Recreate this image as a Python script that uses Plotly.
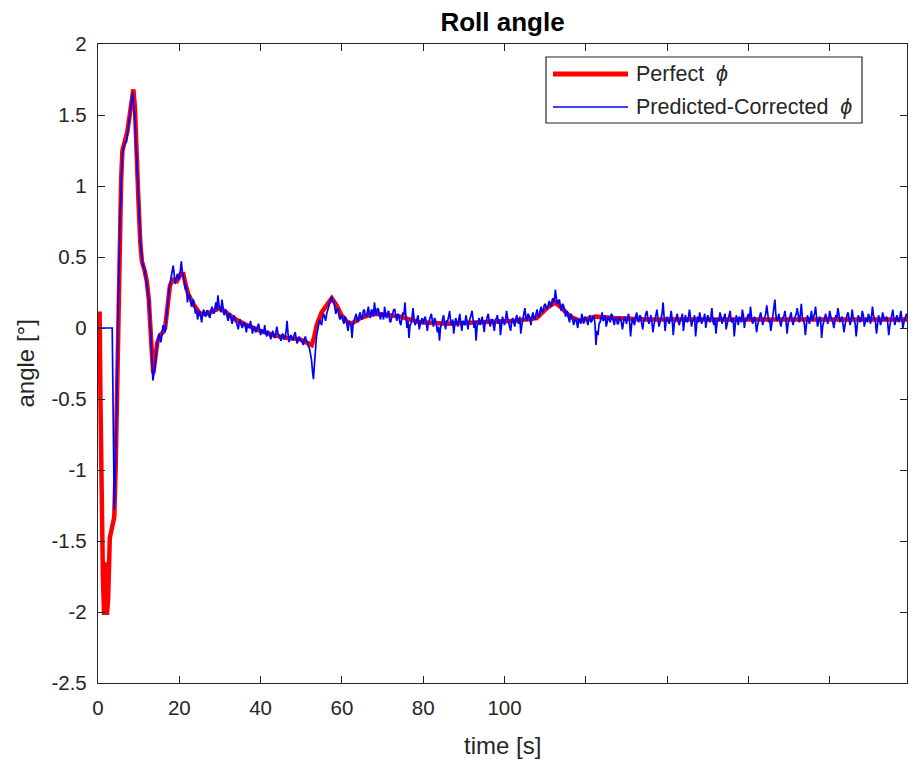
import plotly.graph_objects as go

# ---------------- data ----------------
# "Perfect" roll angle (reference trajectory), breakpoints in time [s] / angle
perfect_t = [0, 0.4, 0.6, 0.9, 1.2, 1.5, 1.9, 2.2, 2.5, 2.9, 3.5, 4.0, 4.35, 4.85,
             5.2, 5.7, 6.0, 6.6, 7.2, 7.8, 8.3, 8.7, 9.1, 9.5, 9.9, 10.4, 10.8,
             11.5, 12.0, 12.5, 12.9, 13.3, 13.6, 14.0, 14.6, 15.3, 16.0, 16.5,
             17.1, 17.7, 18.5, 19.4, 20.3, 21.0, 21.6, 22.2, 23.4, 25.1, 26.7,
             28.5, 30.0, 31.5, 33.3, 36.6, 39.9, 43.1, 46.5, 49.7, 51.5, 52.6,
             53.2, 53.8, 55.0, 56.3, 57.5, 58.7, 59.9, 61.0, 62.4, 64.5, 67.7,
             71.8, 74.3, 79.2, 85.8, 94.0, 102.2, 107.9, 110.4, 112.4, 114.1,
             116.1, 118.6, 122.3, 126.8, 135, 150, 165, 180, 199]
perfect_phi = [0.10, 0.10, -0.50, -1.30, -1.75, -2.02, -1.65, -2.02, -1.90, -1.48,
               -1.40, -1.33, -0.98, -0.15, 0.50, 1.05, 1.25, 1.32, 1.38, 1.50,
               1.62, 1.68, 1.55, 1.31, 0.93, 0.60, 0.47, 0.40, 0.33, 0.20, 0.05,
               -0.20, -0.32, -0.25, -0.10, -0.05, -0.03, 0.00, 0.15, 0.30, 0.34,
               0.33, 0.38, 0.38, 0.30, 0.24, 0.17, 0.10, 0.10, 0.12, 0.14, 0.11,
               0.07, 0.02, -0.02, -0.05, -0.07, -0.08, -0.10, -0.12, -0.06, 0.02,
               0.11, 0.16, 0.21, 0.16, 0.09, 0.05, 0.03, 0.07, 0.10, 0.09, 0.08,
               0.04, 0.03, 0.04, 0.05, 0.07, 0.14, 0.18, 0.14, 0.08, 0.05, 0.08,
               0.07, 0.06, 0.06, 0.06, 0.06, 0.06]

# Predicted-corrected estimate.
# First 20 s sampled every 0.5 s (one row = 10 s)
pc_dt_early = 0.5
pc_phi_early = [
    0.00, 0.00, 0.00, 0.00, 0.00, 0.00, 0.00, 0.00, -1.28, -0.72, 0.22, 0.85, 1.22, 1.30, 1.31, 1.42, 1.55, 1.66, 1.50, 1.20,
    0.88, 0.58, 0.45, 0.40, 0.31, 0.20, -0.05, -0.37, -0.28, -0.12, -0.04, -0.10, 0.02, -0.03, 0.12, 0.28, 0.36, 0.44, 0.31, 0.38,
]
# From 20 s onwards sampled every 0.25 s (one row = 10 s)
pc_t0_late = 20.0
pc_dt_late = 0.25
pc_phi_late = [
    0.34, 0.40, 0.47, 0.39, 0.36, 0.33, 0.27, 0.30, 0.18, 0.24, 0.23, 0.19, 0.15, 0.18, 0.20, 0.14, 0.10, 0.13, 0.06, 0.10,
    0.12, 0.08, 0.04, 0.10, 0.13, 0.09, 0.08, 0.12, 0.12, 0.09, 0.07, 0.11, 0.15, 0.12, 0.10, 0.14, 0.18, 0.13, 0.23, 0.16,
    0.14, 0.11, 0.20, 0.15, 0.09, 0.12, 0.13, 0.08, 0.05, 0.10, 0.10, 0.06, 0.03, 0.07, 0.09, 0.05, 0.04, 0.02, -0.01, 0.04,
    0.06, 0.02, 0.00, 0.03, 0.04, 0.01, -0.03, 0.02, 0.02, 0.00, 0.05, 0.01, -0.04, 0.00, 0.01, -0.03, -0.02, 0.01, 0.03, -0.01,
    -0.05, -0.01, -0.02, -0.04, 0.02, -0.03, -0.06, -0.02, -0.03, -0.05, -0.08, -0.04, -0.02, -0.06, -0.07, -0.03, 0.01, -0.04, -0.05, -0.07,
    -0.09, -0.05, -0.04, -0.08, -0.07, -0.03, 0.05, -0.04, -0.10, -0.06, -0.05, -0.08, -0.08, -0.05, -0.03, -0.07, -0.11, -0.08, -0.06, -0.09,
    -0.08, -0.10, -0.12, -0.08, -0.06, -0.09, -0.10, -0.13, -0.14, -0.18, -0.22, -0.30, -0.36, -0.25, -0.12, -0.06, -0.02, 0.03, 0.06, 0.04,
    0.02, 0.07, 0.10, 0.08, 0.05, 0.10, 0.13, 0.15, 0.18, 0.20, 0.22, 0.18, 0.19, 0.14, 0.10, 0.13, 0.14, 0.09, 0.06, 0.08,
    0.09, 0.05, 0.03, 0.08, 0.07, 0.02, -0.02, 0.04, 0.04, 0.01, -0.07, 0.03, 0.05, 0.08, 0.10, 0.06, 0.04, 0.09, 0.11, 0.07,
    0.06, 0.12, 0.13, 0.09, 0.08, 0.11, 0.15, 0.10, 0.07, 0.13, 0.12, 0.08, 0.18, 0.12, 0.09, 0.14, 0.13, 0.09, 0.06, 0.11,
    0.10, 0.06, 0.15, 0.09, 0.07, 0.11, 0.12, 0.05, 0.04, 0.08, 0.10, 0.13, 0.13, 0.07, 0.05, 0.10, 0.09, 0.04, 0.02, 0.07,
    0.11, 0.09, 0.18, 0.08, 0.00, 0.05, -0.07, 0.02, 0.03, 0.08, 0.14, 0.06, 0.02, 0.04, 0.06, 0.09, -0.01, 0.03, 0.05, 0.07,
    0.03, 0.06, 0.08, 0.04, -0.02, 0.03, 0.05, 0.08, 0.10, 0.05, 0.01, 0.07, 0.06, 0.02, -0.03, 0.01, -0.09, 0.00, 0.04, 0.06,
    0.09, 0.03, -0.01, 0.05, 0.05, 0.08, 0.12, 0.04, 0.02, 0.06, -0.04, 0.02, 0.07, 0.04, 0.01, 0.06, 0.10, 0.03, -0.02, 0.05,
    0.04, 0.02, 0.09, 0.05, -0.01, 0.04, 0.06, 0.09, 0.12, 0.03, 0.00, 0.05, -0.09, 0.01, 0.05, 0.07, 0.02, 0.06, 0.08, 0.03,
    -0.03, 0.05, 0.04, 0.08, 0.10, 0.04, 0.01, 0.06, 0.06, 0.02, -0.02, 0.05, 0.07, 0.09, 0.03, 0.06, -0.05, 0.02, 0.08, 0.05,
    0.02, 0.06, 0.12, 0.07, 0.04, 0.03, -0.02, 0.05, 0.07, 0.04, 0.01, 0.06, 0.09, 0.05, 0.03, 0.08, -0.04, 0.02, 0.06, 0.09,
    0.14, 0.07, 0.05, 0.10, 0.09, 0.06, 0.02, 0.08, 0.11, 0.07, 0.06, 0.10, 0.13, 0.09, 0.08, 0.12, 0.15, 0.11, 0.12, 0.16,
    0.17, 0.14, 0.13, 0.16, 0.19, 0.17, 0.15, 0.20, 0.21, 0.18, 0.27, 0.21, 0.17, 0.19, 0.20, 0.15, 0.12, 0.17, 0.16, 0.13,
    0.08, 0.12, 0.11, 0.07, 0.04, 0.10, 0.09, 0.06, 0.02, 0.05, 0.07, 0.04, 0.00, 0.06, 0.06, 0.03, 0.10, 0.07, 0.03, 0.08,
    0.07, 0.05, 0.02, 0.06, 0.09, 0.04, 0.05, 0.08, 0.08, 0.03, -0.12, -0.02, -0.05, 0.03, 0.04, 0.07, 0.11, 0.05, 0.06, 0.09,
    0.01, 0.04, 0.08, 0.06, 0.04, 0.10, 0.09, 0.05, 0.02, 0.07, 0.07, 0.03, 0.03, 0.08, 0.06, 0.04, -0.01, 0.05, 0.08, 0.06,
    0.03, 0.07, 0.10, 0.05, -0.06, 0.02, 0.07, 0.04, 0.02, 0.08, 0.11, 0.06, 0.04, 0.09, 0.08, 0.03, -0.01, 0.05, 0.06, 0.10,
    0.12, 0.07, 0.03, 0.05, 0.09, 0.04, -0.03, 0.02, 0.05, 0.08, 0.13, 0.06, 0.01, 0.04, 0.07, 0.10, 0.18, 0.08, -0.02, 0.05,
    0.08, 0.05, 0.03, 0.07, 0.12, 0.06, -0.05, 0.03, 0.06, 0.09, 0.10, 0.04, 0.02, 0.06, 0.07, 0.10, -0.02, 0.04, 0.09, 0.05,
    0.04, 0.08, 0.13, 0.07, 0.01, 0.05, 0.06, 0.09, -0.06, 0.02, 0.08, 0.04, 0.11, 0.07, 0.03, 0.06, 0.07, 0.10, 0.00, 0.05,
    0.09, 0.06, 0.04, 0.08, 0.14, 0.05, 0.02, 0.07, -0.04, 0.03, 0.07, 0.05, 0.11, 0.08, 0.03, 0.06, 0.08, 0.10, -0.01, 0.04,
    0.06, 0.09, 0.12, 0.05, 0.04, 0.07, -0.06, 0.02, 0.09, 0.06, 0.02, 0.08, 0.07, 0.04, 0.13, 0.09, 0.00, 0.06, 0.05, 0.08,
    0.10, 0.06, 0.15, 0.08, 0.03, 0.05, 0.08, 0.04, -0.03, 0.02, 0.06, 0.09, 0.11, 0.07, 0.02, 0.05, 0.07, 0.10, 0.16, 0.08,
    0.04, 0.06, -0.02, 0.03, 0.09, 0.11, 0.20, 0.09, 0.05, 0.07, 0.10, 0.04, 0.01, 0.06, 0.07, 0.09, 0.12, 0.05, -0.04, 0.03,
    0.06, 0.08, 0.11, 0.05, 0.02, 0.06, 0.08, 0.10, 0.14, 0.07, 0.04, 0.09, 0.17, 0.08, 0.06, 0.03, -0.05, 0.02, 0.09, 0.06,
    0.03, 0.07, 0.12, 0.05, 0.07, 0.10, 0.15, 0.08, 0.01, 0.04, 0.08, 0.06, -0.07, 0.01, 0.05, 0.08, 0.10, 0.06, 0.03, 0.07,
    0.12, 0.08, 0.06, 0.04, 0.00, 0.05, 0.09, 0.07, 0.14, 0.10, 0.04, 0.06, 0.08, 0.03, -0.03, 0.02, 0.07, 0.09, 0.11, 0.06,
    0.02, 0.05, 0.13, 0.08, 0.05, 0.03, -0.06, 0.01, 0.09, 0.07, 0.04, 0.06, 0.12, 0.09, 0.01, 0.05, 0.07, 0.04, 0.10, 0.08,
    0.03, 0.07, 0.15, 0.09, 0.06, 0.04, -0.04, 0.02, 0.09, 0.06, 0.02, 0.05, 0.11, 0.08, 0.05, 0.07, 0.08, 0.04, -0.05, 0.01,
    0.06, 0.09, 0.13, 0.07, 0.02, 0.05, 0.09, 0.06, 0.04, 0.08, 0.12, 0.06, 0.00, 0.04, 0.07, 0.09, 0.10, 0.05, 0.03, 0.06,
]
pc_t = ([i * pc_dt_early for i in range(len(pc_phi_early))]
        + [pc_t0_late + i * pc_dt_late for i in range(len(pc_phi_late))])
pc_phi = pc_phi_early + pc_phi_late

# axis ticks
x_tickvals = [0, 20, 40, 60, 80, 100, 120, 140, 160, 180]
x_ticktext = ["0", "20", "40", "60", "80", "100", "", "", "", ""]
y_tickvals = [2, 1.5, 1, 0.5, 0, -0.5, -1, -1.5, -2, -2.5]
y_ticktext = ["2", "1.5", "1", "0.5", "0", "-0.5", "-1", "-1.5", "-2", "-2.5"]

legend_labels = ["Perfect  <i>ϕ</i>", "Predicted-Corrected  <i>ϕ</i>"]

# ---------------- figure ----------------
W, H = 912, 767
ML, MR, MT, MB = 98, 5, 44, 84
PW, PH = W - ML - MR, H - MT - MB
AX = "#262626"
FONT = "Liberation Sans, Arial, Helvetica, sans-serif"
RED, BLUE = "#ff0000", "#0000ff"


def px_x(px):
    return (px - ML) / PW


def px_y(py):
    return 1 - (py - MT) / PH


fig = go.Figure()
fig.add_trace(go.Scatter(x=perfect_t, y=perfect_phi, mode="lines",
                         line=dict(color=RED, width=4.5), name=legend_labels[0],
                         showlegend=False))
fig.add_trace(go.Scatter(x=pc_t, y=pc_phi, mode="lines",
                         line=dict(color=BLUE, width=1.7), name=legend_labels[1],
                         showlegend=False))

axis_common = dict(showline=True, linecolor=AX, linewidth=1.3, mirror="ticks",
                   ticks="inside", ticklen=7, tickwidth=1.2, tickcolor=AX,
                   showgrid=False, zeroline=False,
                   tickfont=dict(family=FONT, size=20.5, color=AX))

fig.update_xaxes(range=[0, 199], tickvals=x_tickvals, ticktext=x_ticktext,
                 ticklabelstandoff=6, **axis_common)
fig.update_yaxes(range=[-2.5, 2], tickvals=y_tickvals, ticktext=y_ticktext,
                 ticklabelstandoff=6, **axis_common)

# legend box drawn by hand so the sample lines are long, as in MATLAB
lx0, lx1, ly0, ly1 = 546, 862, 57, 123
fig.add_shape(type="rect", xref="paper", yref="paper",
              x0=px_x(lx0), x1=px_x(lx1), y0=px_y(ly1), y1=px_y(ly0),
              line=dict(color=AX, width=1.2), fillcolor="white", layer="above")
for row_y, col, wid, label in [(74, RED, 5, legend_labels[0]),
                               (107, BLUE, 1.5, legend_labels[1])]:
    fig.add_shape(type="line", xref="paper", yref="paper",
                  x0=px_x(553), x1=px_x(628), y0=px_y(row_y), y1=px_y(row_y),
                  line=dict(color=col, width=wid), layer="above")
    fig.add_annotation(xref="paper", yref="paper", x=px_x(634), y=px_y(row_y),
                       xanchor="left", yanchor="middle", showarrow=False,
                       text=label, font=dict(family=FONT, size=21.5, color=AX))

# axis labels
fig.add_annotation(xref="paper", yref="paper", x=0.5, y=0, yshift=-62,
                   xanchor="center", yanchor="middle", showarrow=False,
                   text="time [s]", font=dict(family=FONT, size=24, color=AX))
fig.add_annotation(xref="paper", yref="paper", x=0, y=0.5, xshift=-73,
                   xanchor="center", yanchor="middle", showarrow=False,
                   textangle=-90, text="angle [°]",
                   font=dict(family=FONT, size=24, color=AX))

fig.update_layout(
    width=W, height=H,
    margin=dict(l=ML, r=MR, t=MT, b=MB),
    paper_bgcolor="white", plot_bgcolor="white",
    title=dict(text="<b>Roll angle</b>", x=0.5, xref="paper", xanchor="center",
               y=1 - 22 / H, yref="container", yanchor="middle",
               font=dict(family=FONT, size=26, color="#000000")),
)

fig.write_html("out.html")
